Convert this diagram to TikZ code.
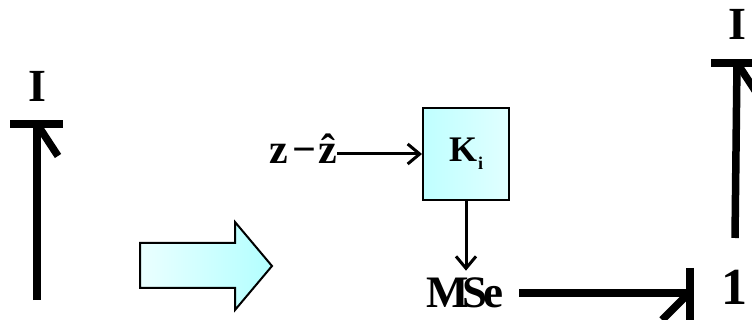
\documentclass[tikz,border=0pt]{standalone}
\usepackage{fontspec}
\setmainfont{Liberation Serif}
\usetikzlibrary{arrows.meta}
\begin{document}
\begin{tikzpicture}[x=1pt,y=-1pt,
					bond/.style={line width=7.5pt},
					sig/.style={line width=3pt,-{Straight Barb[length=12pt,width=20pt,line width=3pt]}},
					lbl/.style={font=\bfseries\fontsize{46}{46}\selectfont,inner sep=0pt},
					blk/.style={draw,line width=2pt,left color=cyan!25,right color=cyan!12,minimum width=86pt,minimum height=92pt,font=\bfseries\fontsize{36}{36}\selectfont}]
\useasboundingbox (0,0) rectangle (752,320);
% labels
\node[lbl,anchor=south,inner ysep=22pt] (I1) at (37,124) {I};
\node[lbl,anchor=south,inner ysep=23pt] (I2) at (737,63) {I};
\node[lbl,font=\bfseries\fontsize{45}{45}\selectfont,inner xsep=16pt,inner ysep=7pt] (mse) at (465,293) {M\kern-7pt S\kern-4pt e};
\node[lbl,font=\bfseries\fontsize{52}{52}\selectfont,anchor=west,inner xsep=31pt] (one) at (690,287) {1};
\node[blk] (K) at (466,154) {K\kern1pt{\fontsize{18}{18}\selectfont\raisebox{-8pt}{i}}};
\node[lbl,font=\bfseries\fontsize{42}{42}\selectfont,anchor=base east] (err) at (337,164) {z\kern4pt−\kern2pt\^{z}};
\coordinate (b1) at (37,300);
\coordinate (b2) at (735,238);
\coordinate (b3) at (mse.east -| one.west);
% bonds
\draw[bond] (b1) -- (I1.south);
\draw[bond] ([xshift=-27pt]I1.south) -- ([xshift=26pt]I1.south);
\draw[bond] ([xshift=2pt,yshift=-3pt]I1.south) -- ++(19,29);
\draw[bond] (b2) -- (I2.south);
\draw[bond] ([xshift=-26pt]I2.south) -- ([xshift=30pt]I2.south);
\draw[bond] ([xshift=2pt,yshift=-3pt]I2.south) -- ++(19,29);
\draw[bond] (mse.east) -- (b3);
\draw[bond] ([yshift=25pt]b3) -- ([yshift=-32pt]b3);
\draw[bond] ([xshift=-3pt,yshift=-2pt]b3) -- ++(-25,25);
% signals
\draw[sig] (err.east |- K.west) -- (K.west);
\draw[sig] (K.south) -- (K.south |- mse.north);
% block arrow
\draw[line width=2pt,line join=miter,left color=cyan!8,right color=cyan!30] (140,243) -- (235,243) -- (235,222) -- (272,266) -- (235,310) -- (235,288) -- (140,288) -- cycle;
\end{tikzpicture}
\end{document}
